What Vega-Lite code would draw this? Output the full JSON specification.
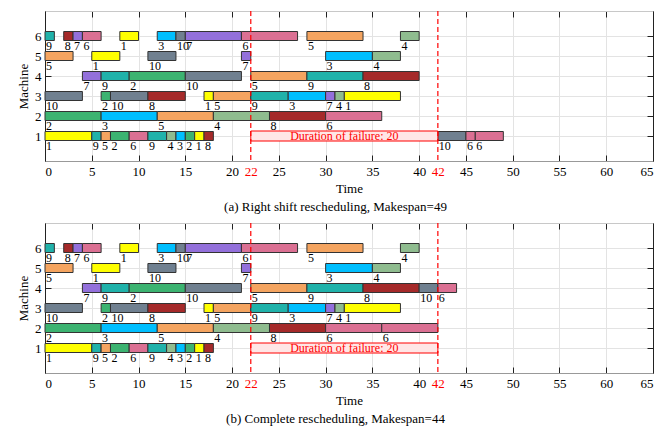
{
  "$schema": "https://vega.github.io/schema/vega-lite/v6.json",
  "padding": {"left": 17, "top": 10, "right": 5, "bottom": 0},
  "config": {
    "font": "Liberation Serif",
    "view": {"stroke": null},
    "title": {"font": "Liberation Serif", "fontWeight": "normal", "fontSize": 13},
    "axis": {"labelFont": "Liberation Serif", "titleFont": "Liberation Serif", "labelFontSize": 13, "titleFontSize": 13, "titleFontWeight": "normal", "labelColor": "black", "titleColor": "black", "tickColor": "#222", "gridColor": "#e3e3e3"}
  },
  "datasets": {
    "bars": [
      {"p": "ab", "m": 6, "j": 9, "s": 0, "e": 1},
      {"p": "ab", "m": 6, "j": 8, "s": 2, "e": 3},
      {"p": "ab", "m": 6, "j": 7, "s": 3, "e": 4},
      {"p": "ab", "m": 6, "j": 6, "s": 4, "e": 6},
      {"p": "ab", "m": 6, "j": 1, "s": 8, "e": 10},
      {"p": "ab", "m": 6, "j": 3, "s": 12, "e": 14},
      {"p": "ab", "m": 6, "j": 10, "s": 14, "e": 15},
      {"p": "ab", "m": 6, "j": 7, "s": 15, "e": 21},
      {"p": "ab", "m": 6, "j": 6, "s": 21, "e": 27},
      {"p": "ab", "m": 6, "j": 5, "s": 28, "e": 34},
      {"p": "ab", "m": 6, "j": 4, "s": 38, "e": 40},
      {"p": "ab", "m": 5, "j": 5, "s": 0, "e": 3},
      {"p": "ab", "m": 5, "j": 1, "s": 5, "e": 8},
      {"p": "ab", "m": 5, "j": 10, "s": 11, "e": 14},
      {"p": "ab", "m": 5, "j": 7, "s": 21, "e": 22},
      {"p": "ab", "m": 5, "j": 3, "s": 30, "e": 35},
      {"p": "ab", "m": 5, "j": 4, "s": 35, "e": 38},
      {"p": "ab", "m": 4, "j": 7, "s": 4, "e": 6},
      {"p": "ab", "m": 4, "j": 9, "s": 6, "e": 9},
      {"p": "ab", "m": 4, "j": 2, "s": 9, "e": 15},
      {"p": "ab", "m": 4, "j": 10, "s": 15, "e": 21},
      {"p": "ab", "m": 4, "j": 5, "s": 22, "e": 28},
      {"p": "ab", "m": 4, "j": 9, "s": 28, "e": 34},
      {"p": "ab", "m": 4, "j": 8, "s": 34, "e": 40},
      {"p": "b", "m": 4, "j": 10, "s": 40, "e": 42},
      {"p": "b", "m": 4, "j": 6, "s": 42, "e": 44},
      {"p": "ab", "m": 3, "j": 10, "s": 0, "e": 4},
      {"p": "ab", "m": 3, "j": 2, "s": 6, "e": 7},
      {"p": "ab", "m": 3, "j": 10, "s": 7, "e": 11},
      {"p": "ab", "m": 3, "j": 8, "s": 11, "e": 15},
      {"p": "ab", "m": 3, "j": 1, "s": 17, "e": 18},
      {"p": "ab", "m": 3, "j": 5, "s": 18, "e": 22},
      {"p": "ab", "m": 3, "j": 9, "s": 22, "e": 26},
      {"p": "ab", "m": 3, "j": 3, "s": 26, "e": 30},
      {"p": "ab", "m": 3, "j": 7, "s": 30, "e": 31},
      {"p": "ab", "m": 3, "j": 4, "s": 31, "e": 32},
      {"p": "ab", "m": 3, "j": 1, "s": 32, "e": 38},
      {"p": "ab", "m": 2, "j": 2, "s": 0, "e": 6},
      {"p": "ab", "m": 2, "j": 3, "s": 6, "e": 12},
      {"p": "ab", "m": 2, "j": 5, "s": 12, "e": 18},
      {"p": "ab", "m": 2, "j": 4, "s": 18, "e": 24},
      {"p": "ab", "m": 2, "j": 8, "s": 24, "e": 30},
      {"p": "ab", "m": 2, "j": 6, "s": 30, "e": 36},
      {"p": "b", "m": 2, "j": 6, "s": 36, "e": 42},
      {"p": "ab", "m": 1, "j": 1, "s": 0, "e": 5},
      {"p": "ab", "m": 1, "j": 9, "s": 5, "e": 6},
      {"p": "ab", "m": 1, "j": 5, "s": 6, "e": 7},
      {"p": "ab", "m": 1, "j": 2, "s": 7, "e": 9},
      {"p": "ab", "m": 1, "j": 6, "s": 9, "e": 11},
      {"p": "ab", "m": 1, "j": 9, "s": 11, "e": 13},
      {"p": "ab", "m": 1, "j": 4, "s": 13, "e": 14},
      {"p": "ab", "m": 1, "j": 3, "s": 14, "e": 15},
      {"p": "ab", "m": 1, "j": 2, "s": 15, "e": 16},
      {"p": "ab", "m": 1, "j": 1, "s": 16, "e": 17},
      {"p": "ab", "m": 1, "j": 8, "s": 17, "e": 18},
      {"p": "a", "m": 1, "j": 10, "s": 42, "e": 45},
      {"p": "a", "m": 1, "j": 6, "s": 45, "e": 46},
      {"p": "a", "m": 1, "j": 6, "s": 46, "e": 49}
    ],
    "fail": [{"m": 1, "s": 22, "e": 42, "t": "Duration of failure: 20"}],
    "lines": [{"x": 22}, {"x": 42}]
  },
  "vconcat": [
    {
      "width": 608,
      "height": 150,
      "title": {"text": "(a) Right shift rescheduling, Makespan=49", "orient": "bottom", "frame": "bounds", "anchor": "middle", "offset": 6},
      "layer": [
        {
          "data": {"name": "bars"},
          "transform": [{"filter": "datum.p != 'b'"}],
          "mark": {"type": "bar", "size": 9, "stroke": "#333", "strokeWidth": 1},
          "encoding": {
            "x": {"field": "s", "type": "quantitative", "scale": {"domain": [0, 65], "nice": false},
              "axis": {"orient": "bottom", "title": "Time", "values": [0, 5, 10, 15, 20, 22, 25, 30, 35, 40, 42, 45, 50, 55, 60, 65], "grid": true, "tickSize": -6, "labelPadding": 10, "domainColor": "#999", "titlePadding": 4,
                "gridColor": {"condition": {"test": "datum.value == 22 || datum.value == 42", "value": "transparent"}, "value": "#e3e3e3"},
                "tickColor": {"condition": {"test": "datum.value == 22 || datum.value == 42", "value": "transparent"}, "value": "#222"},
                "labelColor": {"condition": {"test": "datum.value == 22 || datum.value == 42", "value": "red"}, "value": "black"}}},
            "x2": {"field": "e"},
            "y": {"field": "m", "type": "quantitative", "scale": {"domain": [0, 7], "nice": false},
              "axis": {"orient": "left", "title": "Machine", "values": [1, 2, 3, 4, 5, 6], "grid": true, "tickSize": -6, "labelPadding": 10, "domainColor": "#222", "titlePadding": 4}},
            "color": {"field": "j", "type": "nominal", "legend": null, "scale": {"domain": [1, 2, 3, 4, 5, 6, 7, 8, 9, 10], "range": ["#FFFF00", "#3CB371", "#00BFFF", "#8FBC8F", "#F4A460", "#DB7093", "#9370DB", "#A52A2A", "#20B2AA", "#708090"]}}
          }
        },
        {
          "data": {"name": "bars"},
          "transform": [{"filter": "datum.p != 'b'"}],
          "mark": {"type": "text", "align": "left", "baseline": "top", "dx": 1, "dy": 5, "fontSize": 12, "font": "Liberation Serif", "color": "black"},
          "encoding": {
            "x": {"field": "s", "type": "quantitative", "axis": {"orient": "top", "labels": false, "title": null, "grid": false, "tickSize": -6, "values": [0, 5, 10, 15, 20, 25, 30, 35, 40, 45, 50, 55, 60, 65], "domainColor": "#c8c8c8"}},
            "y": {"field": "m", "type": "quantitative", "axis": {"orient": "right", "labels": false, "title": null, "grid": false, "tickSize": -6, "values": [1, 2, 3, 4, 5, 6], "domainColor": "#222"}},
            "text": {"field": "j", "type": "nominal"}
          }
        },
        {
          "data": {"name": "fail"},
          "mark": {"type": "bar", "size": 10, "fill": "#ffe6e6", "stroke": "red", "strokeWidth": 1},
          "encoding": {
            "x": {"field": "s", "type": "quantitative", "axis": null},
            "x2": {"field": "e"},
            "y": {"field": "m", "type": "quantitative", "axis": null}
          }
        },
        {
          "data": {"name": "fail"},
          "mark": {"type": "text", "align": "center", "baseline": "middle", "fontSize": 12, "color": "red", "font": "Liberation Serif"},
          "encoding": {
            "x": {"datum": 32, "type": "quantitative", "axis": null},
            "y": {"field": "m", "type": "quantitative", "axis": null},
            "text": {"field": "t"}
          }
        },
        {
          "data": {"name": "lines"},
          "mark": {"type": "rule", "color": "red", "strokeDash": [5, 3], "strokeWidth": 1.2},
          "encoding": {"x": {"field": "x", "type": "quantitative", "axis": null}}
        }
      ],
      "resolve": {"axis": {"x": "independent", "y": "independent"}}
    },
    {
      "width": 608,
      "height": 150,
      "title": {"text": "(b) Complete rescheduling, Makespan=44", "orient": "bottom", "frame": "bounds", "anchor": "middle", "offset": 6},
      "layer": [
        {
          "data": {"name": "bars"},
          "transform": [{"filter": "datum.p != 'a'"}],
          "mark": {"type": "bar", "size": 9, "stroke": "#333", "strokeWidth": 1},
          "encoding": {
            "x": {"field": "s", "type": "quantitative", "scale": {"domain": [0, 65], "nice": false},
              "axis": {"orient": "bottom", "title": "Time", "values": [0, 5, 10, 15, 20, 22, 25, 30, 35, 40, 42, 45, 50, 55, 60, 65], "grid": true, "tickSize": -6, "labelPadding": 10, "domainColor": "#999", "titlePadding": 4,
                "gridColor": {"condition": {"test": "datum.value == 22 || datum.value == 42", "value": "transparent"}, "value": "#e3e3e3"},
                "tickColor": {"condition": {"test": "datum.value == 22 || datum.value == 42", "value": "transparent"}, "value": "#222"},
                "labelColor": {"condition": {"test": "datum.value == 22 || datum.value == 42", "value": "red"}, "value": "black"}}},
            "x2": {"field": "e"},
            "y": {"field": "m", "type": "quantitative", "scale": {"domain": [0, 7], "nice": false},
              "axis": {"orient": "left", "title": "Machine", "values": [1, 2, 3, 4, 5, 6], "grid": true, "tickSize": -6, "labelPadding": 10, "domainColor": "#222", "titlePadding": 4}},
            "color": {"field": "j", "type": "nominal", "legend": null, "scale": {"domain": [1, 2, 3, 4, 5, 6, 7, 8, 9, 10], "range": ["#FFFF00", "#3CB371", "#00BFFF", "#8FBC8F", "#F4A460", "#DB7093", "#9370DB", "#A52A2A", "#20B2AA", "#708090"]}}
          }
        },
        {
          "data": {"name": "bars"},
          "transform": [{"filter": "datum.p != 'a'"}],
          "mark": {"type": "text", "align": "left", "baseline": "top", "dx": 1, "dy": 5, "fontSize": 12, "font": "Liberation Serif", "color": "black"},
          "encoding": {
            "x": {"field": "s", "type": "quantitative", "axis": {"orient": "top", "labels": false, "title": null, "grid": false, "tickSize": -6, "values": [0, 5, 10, 15, 20, 25, 30, 35, 40, 45, 50, 55, 60, 65], "domainColor": "#c8c8c8"}},
            "y": {"field": "m", "type": "quantitative", "axis": {"orient": "right", "labels": false, "title": null, "grid": false, "tickSize": -6, "values": [1, 2, 3, 4, 5, 6], "domainColor": "#222"}},
            "text": {"field": "j", "type": "nominal"}
          }
        },
        {
          "data": {"name": "fail"},
          "mark": {"type": "bar", "size": 10, "fill": "#ffe6e6", "stroke": "red", "strokeWidth": 1},
          "encoding": {
            "x": {"field": "s", "type": "quantitative", "axis": null},
            "x2": {"field": "e"},
            "y": {"field": "m", "type": "quantitative", "axis": null}
          }
        },
        {
          "data": {"name": "fail"},
          "mark": {"type": "text", "align": "center", "baseline": "middle", "fontSize": 12, "color": "red", "font": "Liberation Serif"},
          "encoding": {
            "x": {"datum": 32, "type": "quantitative", "axis": null},
            "y": {"field": "m", "type": "quantitative", "axis": null},
            "text": {"field": "t"}
          }
        },
        {
          "data": {"name": "lines"},
          "mark": {"type": "rule", "color": "red", "strokeDash": [5, 3], "strokeWidth": 1.2},
          "encoding": {"x": {"field": "x", "type": "quantitative", "axis": null}}
        }
      ],
      "resolve": {"axis": {"x": "independent", "y": "independent"}}
    }
  ],
  "spacing": 8
}
